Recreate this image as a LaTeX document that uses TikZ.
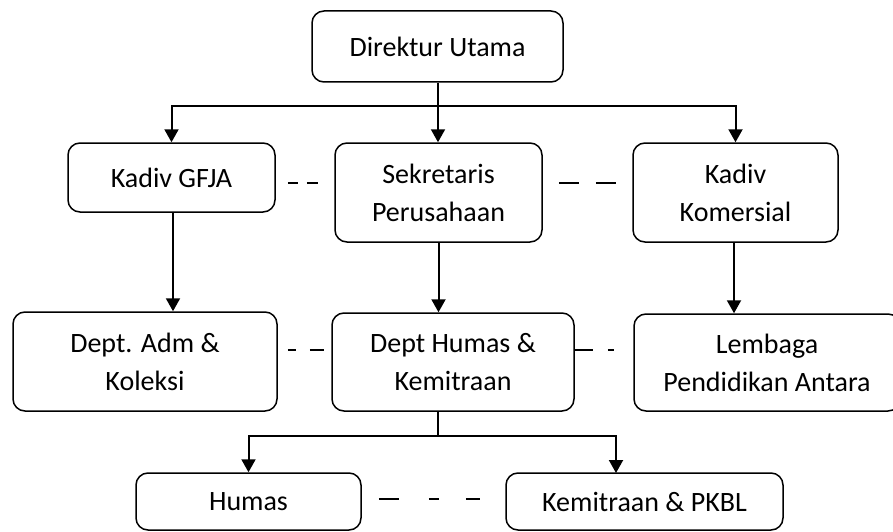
\documentclass[tikz,border=0pt]{standalone}
\usepackage{fontspec}
\setmainfont{Carlito}
\usetikzlibrary{arrows.meta}
\begin{document}
\begin{tikzpicture}[x=1pt,y=-1pt,
  box/.style={draw,line width=1.5pt,rounded corners=12pt,inner sep=0pt,align=center,
    font=\fontsize{28}{38}\selectfont},
  arr/.style={line width=2pt,-{Triangle[width=14pt,length=13pt]}},
  conn/.style={line width=2pt},
  dsh/.style={line width=1.5pt}]
\useasboundingbox (0,0) rectangle (893,532);
% boxes
\node[box,minimum width=251pt,minimum height=71pt] (dir) at (437.5,46.5) {Direktur Utama};
\node[box,minimum width=207pt,minimum height=69pt] (gfja) at (171.5,177.5) {Kadiv GFJA};
\node[box,minimum width=207pt,minimum height=99pt] (sek) at (438.5,192.5) {Sekretaris\\Perusahaan};
\node[box,minimum width=205pt,minimum height=99pt] (kom) at (735.5,192.5) {Kadiv\\Komersial};
\node[box,minimum width=264pt,minimum height=99pt] (adm) at (145,361.5) {Dept. Adm \&\\Koleksi};
\node[box,minimum width=242pt,minimum height=98pt] (dh) at (453,362) {Dept Humas \&\\Kemitraan};
\node[box,minimum width=266pt,minimum height=97pt] (lem) at (767,362.5) {Lembaga\\Pendidikan Antara};
\node[box,minimum width=225pt,minimum height=57pt] (hum) at (248.5,501.5) {Humas};
\node[box,minimum width=277pt,minimum height=57pt] (kem) at (644.5,501.5) {Kemitraan \& PKBL};
% helper coordinates
\coordinate (bar) at (438,106);
\coordinate (bar2) at (438,436);
\coordinate (kemin) at (616,473);
\coordinate (r1) at (0,183);
\coordinate (r2) at (0,350);
\coordinate (r3) at (0,499);
% solid connectors
\draw[conn] (dir.south -| bar) -- (bar);
\draw[arr] (bar) -- (bar |- sek.north);
\draw[arr] (bar) -| (gfja.north);
\draw[arr] (bar) -| (kom.north);
\draw[arr] ([xshift=1.5pt]gfja.south) -- ([xshift=1.5pt]gfja.south |- adm.north);
\draw[arr] (sek.south) -- (sek.south |- dh.north);
\draw[arr] ([xshift=-1.5pt]kom.south) -- ([xshift=-1.5pt]kom.south |- lem.north);
\draw[conn] (dh.south -| bar2) -- (bar2);
\draw[arr] (bar2) -| (hum.north);
\draw[arr] (bar2) -| (kemin);
% dashed links
\draw[dsh,dash pattern=on 0pt off 12pt on 10pt off 9pt on 11pt off 60pt] (gfja.east |- r1) -- (sek.west |- r1);
\draw[dsh,dash pattern=on 0pt off 16pt on 20pt off 17pt on 20pt off 60pt] (sek.east |- r1) -- (kom.west |- r1);
\draw[dsh,dash pattern=on 0pt off 10pt on 8pt off 14pt on 14pt off 60pt] (adm.east |- r2) -- (dh.west |- r2);
\draw[dsh,dash pattern=on 18pt off 15pt on 6pt off 60pt] (dh.east |- r2) -- (lem.west |- r2);
\draw[dsh,dash pattern=on 0pt off 17pt on 20pt off 30pt on 10pt off 27pt on 14pt off 60pt] (hum.east |- r3) -- (kem.west |- r3);
\end{tikzpicture}
\end{document}
